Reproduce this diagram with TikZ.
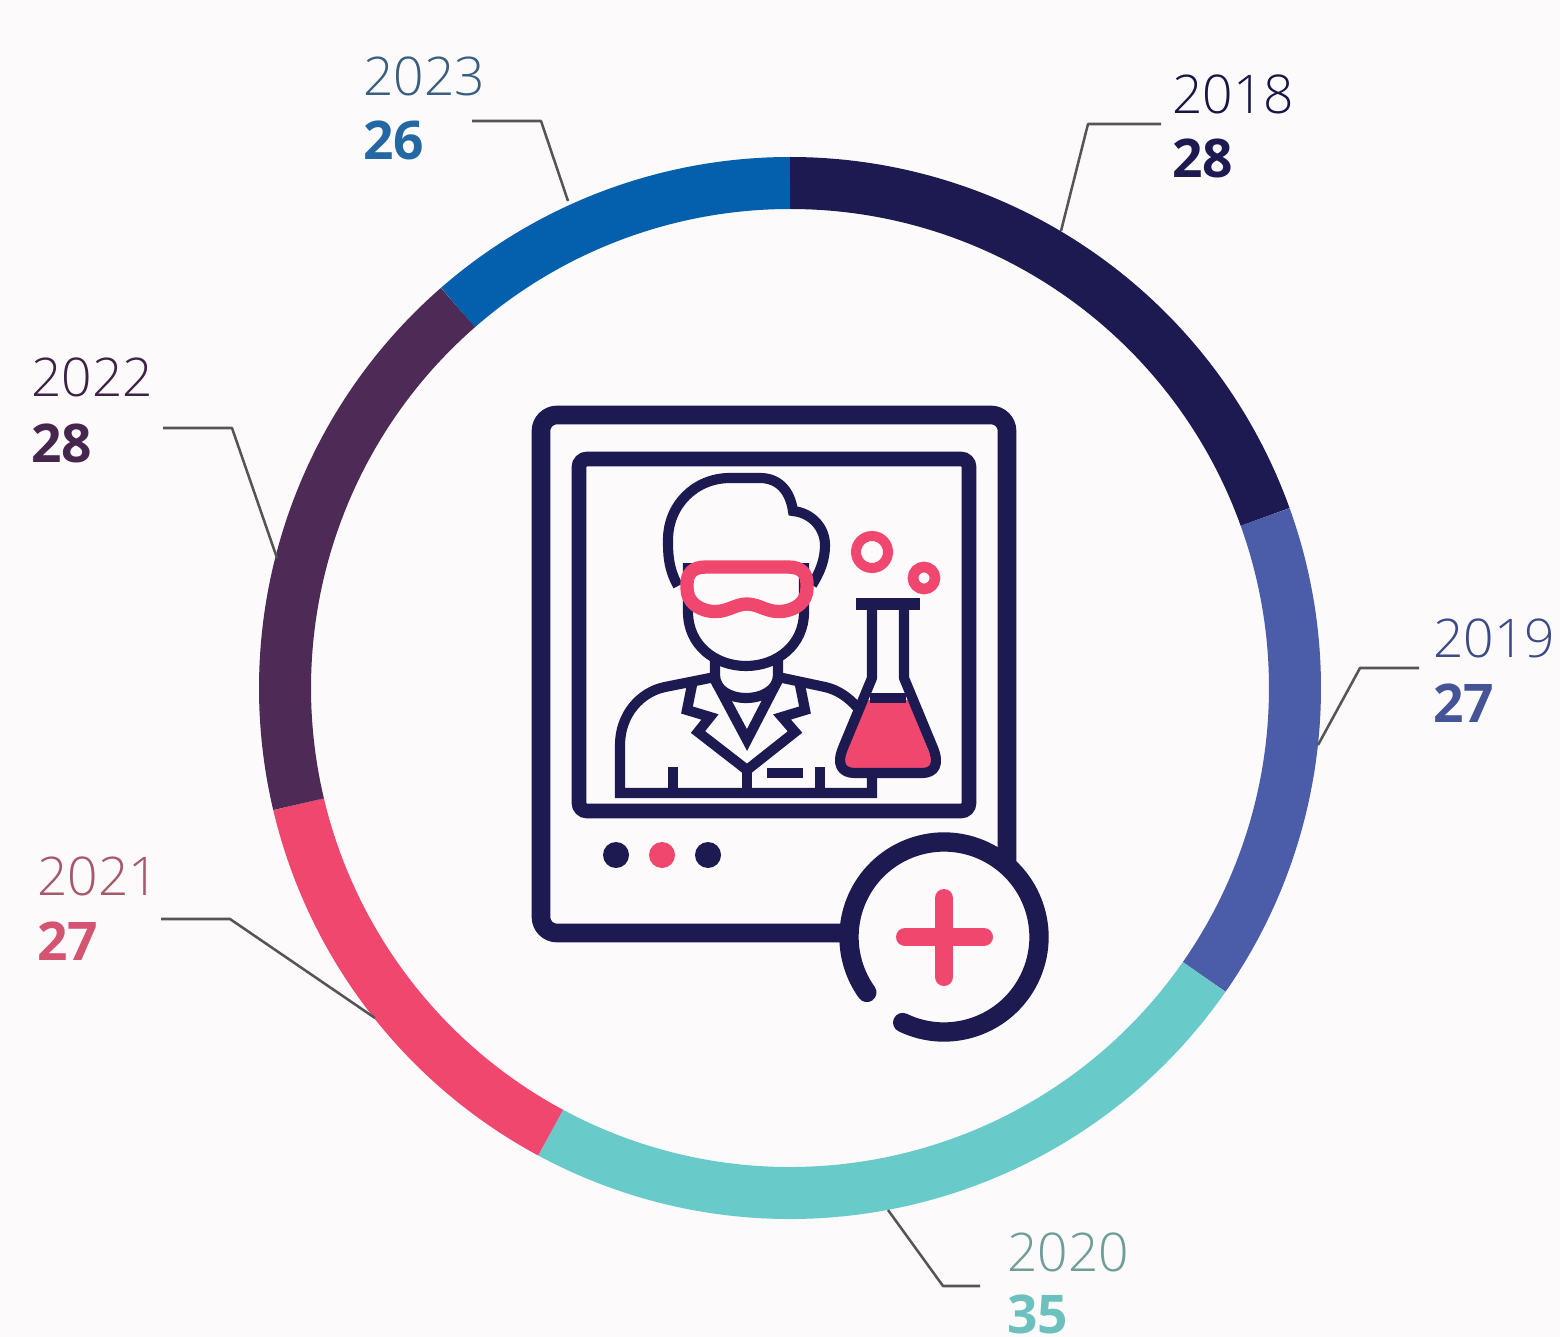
\documentclass[tikz,border=0pt]{standalone}
\usepackage{fontspec}
\newfontfamily\yrfont{Open Sans Light}
\newfontfamily\valfont{Open Sans}
\definecolor{bgc}{HTML}{FCFAFB}
\definecolor{ink}{HTML}{1C1A50}
\definecolor{rose}{HTML}{F0476E}
\definecolor{segA}{HTML}{1C1A50}
\definecolor{segB}{HTML}{4B5DA8}
\definecolor{segC}{HTML}{68CBC9}
\definecolor{segD}{HTML}{F0476E}
\definecolor{segE}{HTML}{4E2A57}
\definecolor{segF}{HTML}{0460AD}
\definecolor{leader}{HTML}{555555}
\definecolor{yrTeal}{HTML}{6F9E98}
\newcommand{\ringseg}[3]{\draw[line width=39pt,#3] ($(ctr)+(-#1:505)$) arc[start angle=#1,end angle=#2,radius=378.75pt];}
\usetikzlibrary{calc}
\tikzset{
 yearlab/.style={anchor=base west,inner sep=0pt,font=\yrfont\fontsize{40}{40}\selectfont},
 vallab/.style={anchor=base west,inner sep=0pt,font=\valfont\bfseries\fontsize{40}{40}\selectfont},
 leadline/.style={leader,line width=1.9pt,line join=round},
 thin icon/.style={ink,line width=7.6pt,line join=miter},
 rose icon/.style={rose,line width=10pt,line join=round}
}
\begin{document}
\begin{tikzpicture}[x=.75pt,y=-.75pt]
\path[fill=bgc] (0,0) rectangle (1560,1337);
\useasboundingbox (0,0) rectangle (1560,1337);
\coordinate (ctr) at (790,688);
% ring
\ringseg{90}{19.8}{segA}
\ringseg{19.8}{-34.9}{segB}
\ringseg{-34.9}{-118.3}{segC}
\ringseg{-118.3}{-166.7}{segD}
\ringseg{-166.7}{-228.9}{segE}
\ringseg{-228.9}{-270}{segF}
% labels
\node[yearlab,text=ink!85!black] (y18) at (1172,114) {2018};
\node[vallab,text=ink] (v18) at (1172,178) {28};
\node[yearlab,text=segB!80!black] (y19) at (1433,657) {2019};
\node[vallab,text=segB!90!black] (v19) at (1433,722) {27};
\node[yearlab,text=yrTeal] (y20) at (1007,1271) {2020};
\node[vallab,text=segC!85!gray] (v20) at (1007,1333) {35};
\node[yearlab,text=rose!50!gray!90!black] (y21) at (37,895) {2021};
\node[vallab,text=rose!75!gray] (v21) at (37,960) {27};
\node[yearlab,text=segE!80!black] (y22) at (31,397) {2022};
\node[vallab,text=segE!90!black] (v22) at (31,462) {28};
\node[yearlab,text=segF!50!gray!85!black] (y23) at (363,96) {2023};
\node[vallab,text=segF!75!gray] (v23) at (363,160) {26};
% leaders
\coordinate (l18a) at (1161,124); \coordinate (l18b) at (1088,124); \coordinate (l18c) at (1061,231);
\coordinate (l19a) at (1419,668); \coordinate (l19b) at (1360,668); \coordinate (l19c) at (1318,745);
\coordinate (l20a) at (980,1286); \coordinate (l20b) at (943,1286); \coordinate (l20c) at (888,1210);
\coordinate (l21a) at (161,919);  \coordinate (l21b) at (230,919);  \coordinate (l21c) at (375,1018);
\coordinate (l22a) at (163,428);  \coordinate (l22b) at (232,428);  \coordinate (l22c) at (277,558);
\coordinate (l23a) at (472,121);  \coordinate (l23b) at (541,121);  \coordinate (l23c) at (568,201);
\draw[leadline] (l18a) -- (l18b) -- (l18c);
\draw[leadline] (l19a) -- (l19b) -- (l19c);
\draw[leadline] (l20a) -- (l20b) -- (l20c);
\draw[leadline] (l21a) -- (l21b) -- (l21c);
\draw[leadline] (l22a) -- (l22b) -- (l22c);
\draw[leadline] (l23a) -- (l23b) -- (l23c);
% tablet frame
\draw[ink,line width=14pt,rounded corners=12pt] (1007,870) -- (1007,415) -- (541,415) -- (541,933) -- (850,933);
\draw[ink,line width=11pt,rounded corners=6pt] (579,459) rectangle (969,811);
\fill[ink] (616,855) circle (13);
\fill[rose] (662,855) circle (13);
\fill[ink] (708,855) circle (13);
% open circle
\draw[ink,line width=14.5pt,line cap=round] ($(944,937)+(-244.2:95)$) arc[start angle=244.2,end angle=575.7,radius=71.25pt];
\draw[rose,line width=13.5pt,line cap=round] (905,937) -- (984,937);
\draw[rose,line width=13.5pt,line cap=round] (944,898) -- (944,977);
% person
\draw[thin icon] (678,586) .. controls (668,568) and (668,553) .. (668,540) .. controls (668,505) and (695,478) .. (730,478) -- (760,478) .. controls (778,478) and (790,490) .. (793,511) .. controls (812,513) and (825,528) .. (825,545) .. controls (825,560) and (820,572) .. (812,585);
\draw[thin icon] (688,563) -- (688,612) .. controls (688,645) and (715,666) .. (746,666) .. controls (777,666) and (804,645) .. (804,612) -- (804,563);
\draw[thin icon] (715,655) -- (715,675) .. controls (715,690) and (730,698) .. (746,698) .. controls (762,698) and (778,690) .. (778,675) -- (778,655);
\draw[thin icon] (715,677) -- (665,687) .. controls (640,692) and (620,715) .. (620,745) -- (620,793) -- (872,793) -- (872,770);
\draw[thin icon] (778,677) -- (825,687) .. controls (838,690) and (848,697) .. (858,708);
\draw[thin icon] (715,680) -- (747,740) -- (778,680);
\draw[thin icon] (692,685) -- (687,710) -- (710,717) -- (698,732) -- (747,770) -- (795,732) -- (782,717) -- (805,710) -- (800,685);
\draw[thin icon] (747,770) -- (747,793);
\draw[thin icon] (673,767) -- (673,793);
\draw[thin icon] (820,767) -- (820,793);
\draw[thin icon] (767,773) -- (803,773);
% flask
\fill[rose] (868,700) -- (908,700) -- (931,757) .. controls (934,765) and (930,768) .. (925,768) -- (850,768) .. controls (844,768) and (841,765) .. (844,757) -- cycle;
\draw[ink,line width=8.6pt] (856,604) -- (920,604);
\draw[thin icon,line join=round] (872,604) -- (872,678) -- (843,748) .. controls (836,765) and (842,773) .. (855,773) -- (922,773) .. controls (934,773) and (940,765) .. (933,748) -- (904,678) -- (904,604);
\draw[thin icon] (870,698) -- (906,698);
\draw[rose,line width=7.5pt] (872,552) circle (16);
\draw[rose,line width=8pt] (924,578) circle (11);
% goggles
\draw[rose icon] (706,567) -- (788,567) .. controls (802,567) and (807,574) .. (807,584) -- (807,588) .. controls (807,602) and (796,609) .. (785,611) .. controls (768,614) and (760,604) .. (747,604) .. controls (734,604) and (726,614) .. (709,611) .. controls (698,609) and (687,602) .. (687,588) -- (687,584) .. controls (687,574) and (692,567) .. (706,567) -- cycle;
\end{tikzpicture}
\end{document}
